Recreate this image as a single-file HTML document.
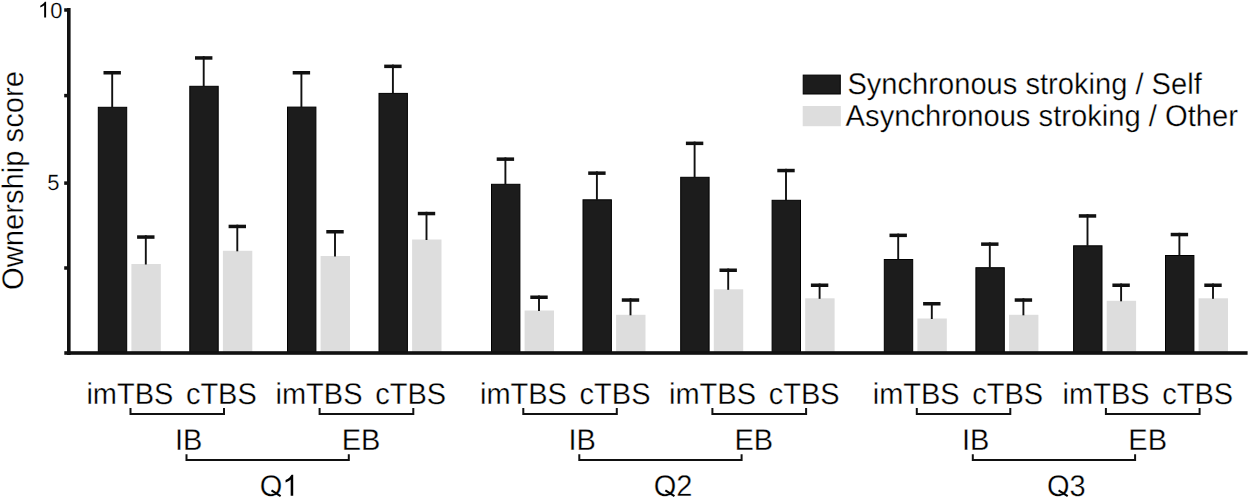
<!DOCTYPE html>
<html><head><meta charset="utf-8"><style>
html,body{margin:0;padding:0;background:#fff;width:1250px;height:500px;overflow:hidden}
svg{display:block}
text{font-family:"Liberation Sans",sans-serif;fill:#000;stroke:#fff;stroke-width:0.3px;text-rendering:geometricPrecision}
</style></head><body>
<svg width="1250" height="500" viewBox="0 0 1250 500">
<rect width="1250" height="500" fill="#fff"/>
<rect x="98.30" y="107.30" width="28.4" height="246.20" fill="#1c1c1c" stroke="#000" stroke-width="1"/>
<rect x="111.25" y="71.00" width="1.9" height="36.30" fill="#111111"/>
<rect x="103.50" y="71.00" width="17.4" height="3.5" fill="#111111"/>
<rect x="131.40" y="264.00" width="29.4" height="89.00" fill="#dddddd"/>
<rect x="144.85" y="235.30" width="1.9" height="29.20" fill="#111111"/>
<rect x="137.10" y="235.30" width="17.4" height="3.5" fill="#111111"/>
<rect x="189.80" y="86.30" width="28.4" height="267.20" fill="#1c1c1c" stroke="#000" stroke-width="1"/>
<rect x="202.75" y="56.20" width="1.9" height="30.10" fill="#111111"/>
<rect x="195.00" y="56.20" width="17.4" height="3.5" fill="#111111"/>
<rect x="222.90" y="250.80" width="29.4" height="102.20" fill="#dddddd"/>
<rect x="236.35" y="224.70" width="1.9" height="26.60" fill="#111111"/>
<rect x="228.60" y="224.70" width="17.4" height="3.5" fill="#111111"/>
<rect x="287.50" y="107.10" width="28.4" height="246.40" fill="#1c1c1c" stroke="#000" stroke-width="1"/>
<rect x="300.45" y="71.00" width="1.9" height="36.10" fill="#111111"/>
<rect x="292.70" y="71.00" width="17.4" height="3.5" fill="#111111"/>
<rect x="320.60" y="256.00" width="29.4" height="97.00" fill="#dddddd"/>
<rect x="334.05" y="230.00" width="1.9" height="26.50" fill="#111111"/>
<rect x="326.30" y="230.00" width="17.4" height="3.5" fill="#111111"/>
<rect x="379.00" y="93.40" width="28.4" height="260.10" fill="#1c1c1c" stroke="#000" stroke-width="1"/>
<rect x="391.95" y="64.60" width="1.9" height="28.80" fill="#111111"/>
<rect x="384.20" y="64.60" width="17.4" height="3.5" fill="#111111"/>
<rect x="412.10" y="239.50" width="29.4" height="113.50" fill="#dddddd"/>
<rect x="425.55" y="211.80" width="1.9" height="28.20" fill="#111111"/>
<rect x="417.80" y="211.80" width="17.4" height="3.5" fill="#111111"/>
<rect x="491.50" y="184.30" width="28.4" height="169.20" fill="#1c1c1c" stroke="#000" stroke-width="1"/>
<rect x="504.45" y="157.40" width="1.9" height="26.90" fill="#111111"/>
<rect x="496.70" y="157.40" width="17.4" height="3.5" fill="#111111"/>
<rect x="524.60" y="310.50" width="29.4" height="42.50" fill="#dddddd"/>
<rect x="538.05" y="295.50" width="1.9" height="15.50" fill="#111111"/>
<rect x="530.30" y="295.50" width="17.4" height="3.5" fill="#111111"/>
<rect x="583.00" y="199.80" width="28.4" height="153.70" fill="#1c1c1c" stroke="#000" stroke-width="1"/>
<rect x="595.95" y="171.40" width="1.9" height="28.40" fill="#111111"/>
<rect x="588.20" y="171.40" width="17.4" height="3.5" fill="#111111"/>
<rect x="616.10" y="314.80" width="29.4" height="38.20" fill="#dddddd"/>
<rect x="629.55" y="298.30" width="1.9" height="17.00" fill="#111111"/>
<rect x="621.80" y="298.30" width="17.4" height="3.5" fill="#111111"/>
<rect x="680.70" y="177.30" width="28.4" height="176.20" fill="#1c1c1c" stroke="#000" stroke-width="1"/>
<rect x="693.65" y="141.60" width="1.9" height="35.70" fill="#111111"/>
<rect x="685.90" y="141.60" width="17.4" height="3.5" fill="#111111"/>
<rect x="713.80" y="289.30" width="29.4" height="63.70" fill="#dddddd"/>
<rect x="727.25" y="268.50" width="1.9" height="21.30" fill="#111111"/>
<rect x="719.50" y="268.50" width="17.4" height="3.5" fill="#111111"/>
<rect x="772.10" y="200.30" width="28.4" height="153.20" fill="#1c1c1c" stroke="#000" stroke-width="1"/>
<rect x="785.05" y="168.80" width="1.9" height="31.50" fill="#111111"/>
<rect x="777.30" y="168.80" width="17.4" height="3.5" fill="#111111"/>
<rect x="805.20" y="298.30" width="29.4" height="54.70" fill="#dddddd"/>
<rect x="818.65" y="283.50" width="1.9" height="15.30" fill="#111111"/>
<rect x="810.90" y="283.50" width="17.4" height="3.5" fill="#111111"/>
<rect x="884.30" y="259.50" width="28.4" height="94.00" fill="#1c1c1c" stroke="#000" stroke-width="1"/>
<rect x="897.25" y="233.60" width="1.9" height="25.90" fill="#111111"/>
<rect x="889.50" y="233.60" width="17.4" height="3.5" fill="#111111"/>
<rect x="917.40" y="318.50" width="29.4" height="34.50" fill="#dddddd"/>
<rect x="930.85" y="302.00" width="1.9" height="17.00" fill="#111111"/>
<rect x="923.10" y="302.00" width="17.4" height="3.5" fill="#111111"/>
<rect x="975.90" y="267.70" width="28.4" height="85.80" fill="#1c1c1c" stroke="#000" stroke-width="1"/>
<rect x="988.85" y="242.40" width="1.9" height="25.30" fill="#111111"/>
<rect x="981.10" y="242.40" width="17.4" height="3.5" fill="#111111"/>
<rect x="1009.00" y="314.80" width="29.4" height="38.20" fill="#dddddd"/>
<rect x="1022.45" y="298.30" width="1.9" height="17.00" fill="#111111"/>
<rect x="1014.70" y="298.30" width="17.4" height="3.5" fill="#111111"/>
<rect x="1073.60" y="245.80" width="28.4" height="107.70" fill="#1c1c1c" stroke="#000" stroke-width="1"/>
<rect x="1086.55" y="214.20" width="1.9" height="31.60" fill="#111111"/>
<rect x="1078.80" y="214.20" width="17.4" height="3.5" fill="#111111"/>
<rect x="1106.70" y="300.80" width="29.4" height="52.20" fill="#dddddd"/>
<rect x="1120.15" y="283.50" width="1.9" height="17.80" fill="#111111"/>
<rect x="1112.40" y="283.50" width="17.4" height="3.5" fill="#111111"/>
<rect x="1165.50" y="255.50" width="28.4" height="98.00" fill="#1c1c1c" stroke="#000" stroke-width="1"/>
<rect x="1178.45" y="232.80" width="1.9" height="22.70" fill="#111111"/>
<rect x="1170.70" y="232.80" width="17.4" height="3.5" fill="#111111"/>
<rect x="1198.60" y="298.30" width="29.4" height="54.70" fill="#dddddd"/>
<rect x="1212.05" y="283.50" width="1.9" height="15.30" fill="#111111"/>
<rect x="1204.30" y="283.50" width="17.4" height="3.5" fill="#111111"/>
<rect x="67" y="8" width="3.6" height="347" fill="#111111"/>
<rect x="64.3" y="351.2" width="1183.3" height="3.6" fill="#111111"/>
<rect x="64.2" y="8.25" width="4" height="3.5" fill="#111111"/>
<rect x="64.2" y="93.85" width="4" height="3.5" fill="#111111"/>
<rect x="64.2" y="181.35" width="4" height="3.5" fill="#111111"/>
<rect x="64.2" y="266.25" width="4" height="3.5" fill="#111111"/>
<path transform="translate(37.90,17.50) scale(0.010742,-0.010742)" d="M583,0 L763,0 L763,1472 L646,1472 Q599,1377 486,1276 Q373,1175 222,1104 L222,930 Q306,961 412,1023 Q518,1085 583,1147 Z" fill="#000"/>
<text transform="translate(50.14,17.50) scale(1,1.0)" font-size="22" style="stroke-width:0.2px">0</text>
<text transform="translate(47.20,190.10) scale(1,1.0)" font-size="22" style="stroke-width:0.2px">5</text>
<text transform="translate(22.5,290.05) rotate(-90) scale(1,1.02)" font-size="29.2">Ownership score</text>
<rect x="803.2" y="75.1" width="37.1" height="18.9" fill="#1c1c1c" stroke="#000" stroke-width="1"/>
<rect x="802.7" y="106" width="38.1" height="20.2" fill="#dddddd"/>
<text transform="translate(847.40,93.60) scale(1,1.03)" font-size="29.12">Synchronous stroking / Self</text>
<text transform="translate(845.60,126.30) scale(1,1.03)" font-size="29.18">Asynchronous stroking / Other</text>
<text transform="translate(86.40,403.50) scale(1,1.03)" font-size="29">imTBS</text>
<text transform="translate(275.50,403.50) scale(1,1.03)" font-size="29">imTBS</text>
<text transform="translate(479.95,403.50) scale(1,1.03)" font-size="29">imTBS</text>
<text transform="translate(669.00,403.50) scale(1,1.03)" font-size="29">imTBS</text>
<text transform="translate(872.70,403.50) scale(1,1.03)" font-size="29">imTBS</text>
<text transform="translate(1062.60,403.50) scale(1,1.03)" font-size="29">imTBS</text>
<text transform="translate(185.90,403.50) scale(1,1.03)" font-size="29">cTBS</text>
<text transform="translate(375.30,403.50) scale(1,1.03)" font-size="29">cTBS</text>
<text transform="translate(579.60,403.50) scale(1,1.03)" font-size="29">cTBS</text>
<text transform="translate(768.70,403.50) scale(1,1.03)" font-size="29">cTBS</text>
<text transform="translate(972.20,403.50) scale(1,1.03)" font-size="29">cTBS</text>
<text transform="translate(1162.20,403.50) scale(1,1.03)" font-size="29">cTBS</text>
<path d="M130.50 408 V413.90 H224.00 V408" fill="none" stroke="#111111" stroke-width="2"/>
<path d="M319.60 408 V413.90 H413.30 V408" fill="none" stroke="#111111" stroke-width="2"/>
<path d="M186.50 454.3 V460 H348.80 V454.3" fill="none" stroke="#111111" stroke-width="2"/>
<path d="M523.30 408 V413.90 H616.80 V408" fill="none" stroke="#111111" stroke-width="2"/>
<path d="M712.40 408 V413.90 H806.10 V408" fill="none" stroke="#111111" stroke-width="2"/>
<path d="M579.30 454.3 V460 H741.60 V454.3" fill="none" stroke="#111111" stroke-width="2"/>
<path d="M916.80 408 V413.90 H1010.30 V408" fill="none" stroke="#111111" stroke-width="2"/>
<path d="M1105.90 408 V413.90 H1199.60 V408" fill="none" stroke="#111111" stroke-width="2"/>
<path d="M972.80 454.3 V460 H1135.10 V454.3" fill="none" stroke="#111111" stroke-width="2"/>
<text transform="translate(175.00,449.80) scale(1,1.03)" font-size="29">IB</text>
<text transform="translate(341.76,449.80) scale(1,1.03)" font-size="29">EB</text>
<text transform="translate(259.85,495.70) scale(1,1.03)" font-size="29">O</text>
<path d="M271.50 490.40 L280.60 496.10" stroke="#000" stroke-width="2.1" fill="none"/>
<path transform="translate(282.41,495.70) scale(0.014160,-0.014160)" d="M583,0 L763,0 L763,1472 L646,1472 Q599,1377 486,1276 Q373,1175 222,1104 L222,930 Q306,961 412,1023 Q518,1085 583,1147 Z" fill="#000"/>
<text transform="translate(568.40,449.80) scale(1,1.03)" font-size="29">IB</text>
<text transform="translate(734.40,449.80) scale(1,1.03)" font-size="29">EB</text>
<text transform="translate(653.70,495.70) scale(1,1.03)" font-size="29">O</text>
<path d="M665.35 490.40 L674.45 496.10" stroke="#000" stroke-width="2.1" fill="none"/>
<text transform="translate(676.26,495.70) scale(1,1.03)" font-size="29">2</text>
<text transform="translate(961.90,449.80) scale(1,1.03)" font-size="29">IB</text>
<text transform="translate(1128.30,449.80) scale(1,1.03)" font-size="29">EB</text>
<text transform="translate(1046.95,495.70) scale(1,1.03)" font-size="29">O</text>
<path d="M1058.60 490.40 L1067.70 496.10" stroke="#000" stroke-width="2.1" fill="none"/>
<text transform="translate(1069.51,495.70) scale(1,1.03)" font-size="29">3</text>
</svg>
</body></html>
